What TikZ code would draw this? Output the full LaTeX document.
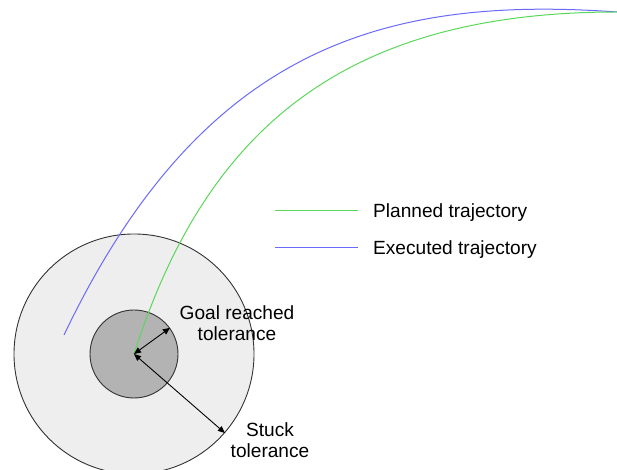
\documentclass[tikz,border=0pt]{standalone}
\usepackage{fontspec}
\setmainfont{Liberation Sans}
\usetikzlibrary{arrows.meta}
\definecolor{planned}{RGB}{90,215,90}
\definecolor{executed}{RGB}{105,105,250}
\definecolor{outerfill}{RGB}{238,238,238}
\definecolor{innerfill}{RGB}{179,179,179}
\definecolor{rim}{RGB}{50,50,50}
\tikzset{
  zone/.style={circle, draw=rim, line width=0.9pt, inner sep=0pt},
  traj/.style={line width=1pt},
  radius arrow/.style={line width=0.9pt, black,
    {Triangle[length=7pt,width=6pt]}-{Triangle[length=7pt,width=6pt]}},
  label/.style={font=\fontsize{19.1}{21.5}\selectfont, align=center, inner sep=0pt},
}
\begin{document}
\begin{tikzpicture}[x=1pt,y=1pt]
  \useasboundingbox (0,0) rectangle (617,470);
  % tolerance zones around the goal
  \coordinate (goalpt) at (134,116);
  \node[zone, fill=outerfill, minimum size=240pt] (stuck) at (goalpt) {};
  \node[zone, fill=innerfill, minimum size=88pt] (reached) at (goalpt) {};
  % trajectories
  \coordinate (start) at (617,458);
  \coordinate (execend) at (64,135);
  \draw[traj, executed] (execend) .. controls (200,420) and (380,475) .. (start);
  \draw[traj, planned] (goalpt) .. controls (204,334) and (337,458) .. (start);
  % radii
  \draw[radius arrow] (goalpt) -- (reached.36);
  \draw[radius arrow] (goalpt) -- (stuck.-41.6);
  \node[label] (goallabel) at (237,147) {Goal reached\\tolerance};
  \node[label] (stucklabel) at (270,30) {Stuck\\tolerance};
  % legend
  \coordinate (lg1a) at (275,259);
  \coordinate (lg1b) at (358,259);
  \coordinate (lg2a) at (275,222);
  \coordinate (lg2b) at (358,222);
  \draw[traj, planned] (lg1a) -- (lg1b);
  \draw[traj, executed] (lg2a) -- (lg2b);
  \node[label, anchor=west] (lgt1) at (373,257.5) {Planned trajectory};
  \node[label, anchor=west] (lgt2) at (373,220.5) {Executed trajectory};
\end{tikzpicture}
\end{document}
